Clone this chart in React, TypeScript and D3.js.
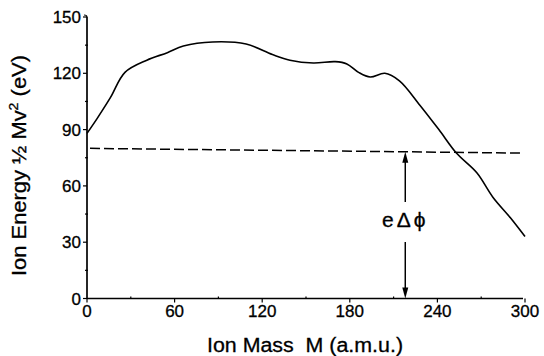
import React from "react";
import * as d3 from "d3";

const massValues = [0, 7, 16, 26, 41, 55, 66, 86, 109, 127, 139, 155, 170, 178, 186, 194, 204, 214, 228, 241, 253, 267, 278, 290, 300];
const energyValues = [88, 96, 107, 120.5, 127, 131, 134.5, 136.7, 135.6, 130, 127, 125.5, 126.2, 125, 120.5, 118, 120, 116, 103, 90, 77.5, 67, 54, 43, 33];
const xTicks = [0, 60, 120, 180, 240, 300];
const xMinorTicks = [30, 90, 150, 210, 270];
const yTicks = [0, 30, 60, 90, 120, 150];
const yMinorTicks = [15, 45, 75, 105, 135];
const dashedMass = [0, 297];
const dashedEnergy = [80, 77.5];
const arrowMass = 218;

const FONT = "'Liberation Sans', Arial, Helvetica, sans-serif";

export default function App() {
  const x = d3.scaleLinear().domain([0, 300]).range([87, 525]);
  const y = d3.scaleLinear().domain([0, 150]).range([298.5, 17]);

  const pts: [number, number][] = massValues.map((m, i) => [m, energyValues[i]]);
  const line = d3
    .line<[number, number]>()
    .x((d) => x(d[0]))
    .y((d) => y(d[1]))
    .curve(d3.curveCatmullRom.alpha(0.5));

  const dashY = (m: number) =>
    dashedEnergy[0] + ((dashedEnergy[1] - dashedEnergy[0]) * (m - dashedMass[0])) / (dashedMass[1] - dashedMass[0]);
  const ax = x(arrowMass);
  const aTop = y(dashY(arrowMass));
  const aBot = y(0);

  return (
    <svg width={544} height={356} style={{ position: "absolute", left: 0, top: 0, background: "#fff" }}>
      <g fill="none" stroke="#000">
        <line x1={x(0)} x2={x(0)} y1={y(150)} y2={y(0)} strokeWidth={1.7} />
        <line x1={x(0)} x2={x(300) - 2} y1={y(0)} y2={y(0)} strokeWidth={1.7} />
        <path d={`M${x(0)},${y(150)} q0,-2 -3,-2`} strokeWidth={1.2} />
        {yTicks.map((t) => (
          <line key={"yt" + t} x1={x(0) - 4} x2={x(0)} y1={y(t)} y2={y(t)} strokeWidth={1.2} />
        ))}
        {yMinorTicks.map((t) => (
          <line key={"ym" + t} x1={x(0) - 2} x2={x(0) + 1} y1={y(t)} y2={y(t)} strokeWidth={1.2} />
        ))}
        {xTicks.map((t) => (
          <line key={"xt" + t} x1={x(t)} x2={x(t)} y1={y(0)} y2={y(0) + 4} strokeWidth={1.2} />
        ))}
        {xMinorTicks.map((t) => (
          <line key={"xm" + t} x1={x(t)} x2={x(t)} y1={y(0) - 2} y2={y(0)} strokeWidth={1.2} />
        ))}
        <path d={line(pts) || ""} strokeWidth={1.6} />
        <line
          x1={x(dashedMass[0]) + 3}
          x2={x(dashedMass[1])}
          y1={y(dashedEnergy[0])}
          y2={y(dashedEnergy[1])}
          strokeWidth={1.5}
          strokeDasharray="10,4"
        />
        <line x1={ax} x2={ax} y1={aTop + 6} y2={202} strokeWidth={1.5} />
        <line x1={ax} x2={ax} y1={242} y2={aBot - 8} strokeWidth={1.5} />
      </g>
      <path d={`M${ax},${aTop} l-3,11 l6,0 z`} fill="#000" />
      <path d={`M${ax},${aBot} l-3,-11 l6,0 z`} fill="#000" />
      <text x={ax} y={227} textAnchor="middle" fontFamily={FONT} fontSize={21} letterSpacing={3}
        stroke="#000" strokeWidth={0.3}>
        eΔϕ
      </text>
      <g fontFamily={FONT} fontSize={17} fill="#000" stroke="#000" strokeWidth={0.3}>
        {yTicks.map((t) => (
          <text key={"yl" + t} x={x(0) - 6} y={y(t) + 6} textAnchor="end">
            {t}
          </text>
        ))}
        {xTicks.map((t) => (
          <text key={"xl" + t} x={x(t)} y={317} textAnchor="middle">
            {t}
          </text>
        ))}
      </g>
      <text x={207} y={352} fontFamily={FONT} fontSize={20} textLength={196} lengthAdjust="spacingAndGlyphs"
        stroke="#000" strokeWidth={0.3} style={{ whiteSpace: "pre" }}>
        {"Ion Mass  M (a.m.u.)"}
      </text>
      <text
        transform="translate(26,276) rotate(-90)"
        fontFamily={FONT}
        fontSize={20}
        stroke="#000"
        strokeWidth={0.3}
        textLength={221}
        lengthAdjust="spacingAndGlyphs"
      >
        <tspan>Ion Energy ½ Mv</tspan>
        <tspan dy={-8} fontSize={13}>2</tspan>
        <tspan dy={8}> (eV)</tspan>
      </text>
    </svg>
  );
}
